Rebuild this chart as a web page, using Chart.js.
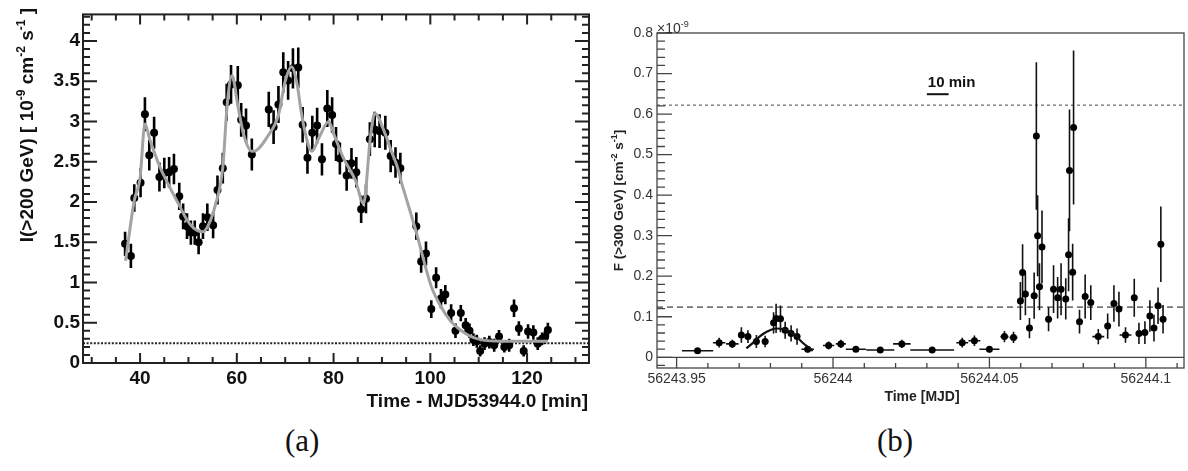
<!DOCTYPE html>
<html>
<head>
<meta charset="utf-8">
<script src="https://cdn.jsdelivr.net/npm/chart.js@4.4.1/dist/chart.umd.min.js"></script>
<style>
  body { margin: 0; background: #fff; width: 1188px; height: 471px; position: relative; overflow: hidden; }
  .panel { position: absolute; top: 0; }
  .caption { position: absolute; top: 425px; font-family: "Liberation Serif", serif; font-size: 31px; line-height: 31px; color: #111; }
</style>
</head>
<body>
<div class="panel" style="left:0"><canvas id="chartA" width="600" height="420"></canvas></div>
<div class="panel" style="left:600px"><canvas id="chartB" width="588" height="420"></canvas></div>
<div class="caption" style="left:285px">(a)</div>
<div class="caption" style="left:877px">(b)</div>
<script>
// left panel: 1-min light curve
const timeA = [36.9, 38.1, 38.8, 40.1, 41.0, 41.9, 42.9, 44.0, 45.0, 46.0,
  47.0, 48.1, 48.9, 49.7, 50.5, 51.3, 52.1, 53.0, 53.9, 55.1,
  56.0, 57.1, 57.9, 58.8, 60.2, 60.9, 61.9, 63.1, 66.6, 67.6,
  68.6, 69.6, 70.6, 71.6, 72.7, 73.6, 74.6, 75.6, 76.6, 77.6,
  78.7, 79.7, 80.5, 81.3, 82.7, 83.7, 84.7, 85.7, 86.7, 87.5,
  88.5, 89.5, 90.7, 91.8, 92.8, 93.8, 97.1, 98.1, 99.1, 100.2,
  101.2, 102.2, 103.1, 104.3, 105.2, 106.3, 107.3, 108.1, 108.9, 109.6,
  110.3, 111.2, 112.2, 113.2, 114.2, 115.3, 116.3, 117.3, 118.3, 119.3,
  120.2, 121.3, 122.2, 123.1, 123.7, 124.3];
const fluxA = [1.48, 1.33, 2.05, 2.24, 3.09, 2.58, 2.86, 2.31, 2.36, 2.37,
  2.41, 2.07, 1.82, 1.70, 1.62, 1.62, 1.50, 1.70, 1.81, 1.71,
  2.15, 2.42, 3.24, 3.46, 3.45, 3.02, 2.95, 2.59, 3.15, 2.93,
  3.21, 3.61, 3.51, 3.66, 3.67, 2.96, 2.55, 2.86, 2.95, 2.53,
  3.16, 3.08, 2.72, 2.54, 2.33, 2.48, 2.37, 1.91, 2.04, 2.78,
  2.90, 2.88, 2.86, 2.57, 2.49, 2.42, 1.70, 1.26, 1.36, 0.67,
  1.06, 0.80, 0.85, 0.62, 0.40, 0.62, 0.47, 0.40, 0.29, 0.27,
  0.15, 0.24, 0.26, 0.22, 0.33, 0.20, 0.22, 0.68, 0.43, 0.15,
  0.39, 0.38, 0.24, 0.30, 0.32, 0.41];
const errA = [0.15, 0.15, 0.17, 0.18, 0.21, 0.19, 0.20, 0.18, 0.19, 0.19,
  0.19, 0.17, 0.16, 0.16, 0.15, 0.15, 0.15, 0.16, 0.17, 0.16,
  0.18, 0.19, 0.23, 0.24, 0.24, 0.21, 0.21, 0.20, 0.22, 0.21,
  0.23, 0.25, 0.24, 0.25, 0.25, 0.22, 0.20, 0.21, 0.22, 0.20,
  0.23, 0.22, 0.21, 0.20, 0.19, 0.19, 0.19, 0.17, 0.18, 0.21,
  0.22, 0.21, 0.21, 0.20, 0.19, 0.19, 0.17, 0.14, 0.15, 0.11,
  0.13, 0.12, 0.12, 0.11, 0.09, 0.10, 0.09, 0.09, 0.08, 0.08,
  0.07, 0.08, 0.08, 0.08, 0.08, 0.07, 0.08, 0.11, 0.09, 0.07,
  0.09, 0.09, 0.08, 0.08, 0.08, 0.09];
const binHalfA = 0.5;
const fitTimeA = [37, 38.8, 40, 41, 42, 44, 46, 48, 50, 52,
  53, 54, 55.5, 57.1, 58, 59, 60.2, 61.4, 63.1, 64,
  66.2, 68.6, 70, 71.3, 72.5, 73.2, 74.2, 75.5, 77, 79,
  80, 82, 84.5, 86.2, 87.6, 88.5, 90.7, 92, 93.1, 94,
  95.5, 97.2, 99.3, 100.2, 102, 104.2, 106, 108, 110.4, 115, 124.3];
const fitFluxA = [1.27, 2.02, 2.3, 2.97, 2.78, 2.45, 2.2, 1.97, 1.75, 1.64,
  1.63, 1.70, 1.95, 2.43, 3.2, 3.57, 3.2, 2.84, 2.63, 2.64,
  2.8, 3.08, 3.5, 3.68, 3.45, 3.16, 2.84, 2.63, 2.8, 3.0,
  2.85, 2.55, 2.27, 1.98, 2.8, 3.1, 2.84, 2.62, 2.45, 2.25,
  1.95, 1.6, 1.13, 0.95, 0.72, 0.52, 0.42, 0.34, 0.29, 0.27, 0.27];
const baselineA = 0.245;
const xTicksA = [40, 60, 80, 100, 120];
const xTickLabelsA = ['40', '60', '80', '100', '120'];
const yTicksA = [0, 0.5, 1, 1.5, 2, 2.5, 3, 3.5, 4];
const yTickLabelsA = ['0', '0.5', '1', '1.5', '2', '2.5', '3', '3.5', '4'];

// right panel: flux above 300 GeV vs MJD
const mjdB = [56243.9567, 56243.9636, 56243.9678, 56243.9707, 56243.9728, 56243.9755, 56243.9783, 56243.9810, 56243.9818, 56243.9832,
  56243.9847, 56243.9866, 56243.9885, 56243.9919, 56243.9986, 56244.0025, 56244.0073, 56244.0151, 56244.0220, 56244.0317,
  56244.0413, 56244.0452, 56244.0500, 56244.0548, 56244.0577, 56244.0599, 56244.0606, 56244.0615, 56244.0628, 56244.0643,
  56244.0650, 56244.0654, 56244.0660, 56244.0668, 56244.0689, 56244.0705, 56244.0718, 56244.0729, 56244.0744, 56244.0753,
  56244.0756, 56244.0766, 56244.0769, 56244.0788, 56244.0806, 56244.0824, 56244.0848, 56244.0878, 56244.0898, 56244.0914,
  56244.0935, 56244.0963, 56244.0978, 56244.0997, 56244.1013, 56244.1026, 56244.1039, 56244.1048, 56244.1055];
const fluxB = [0.016, 0.036, 0.033, 0.055, 0.051, 0.039, 0.039, 0.085, 0.096, 0.095,
  0.067, 0.059, 0.051, 0.020, 0.029, 0.033, 0.020, 0.018, 0.033, 0.018,
  0.036, 0.041, 0.020, 0.051, 0.049, 0.139, 0.209, 0.156, 0.072, 0.152,
  0.546, 0.300, 0.174, 0.272, 0.094, 0.168, 0.147, 0.168, 0.144, 0.253,
  0.461, 0.210, 0.567, 0.088, 0.150, 0.135, 0.051, 0.077, 0.133, 0.119,
  0.055, 0.147, 0.059, 0.061, 0.102, 0.072, 0.127, 0.279, 0.094];
const errB = [0.004, 0.012, 0.010, 0.019, 0.016, 0.016, 0.014, 0.026, 0.036, 0.033,
  0.021, 0.020, 0.020, 0.008, 0.010, 0.010, 0.006, 0.005, 0.010, 0.004,
  0.012, 0.013, 0.008, 0.014, 0.014, 0.047, 0.070, 0.052, 0.025, 0.057,
  0.182, 0.100, 0.058, 0.090, 0.030, 0.059, 0.051, 0.064, 0.051, 0.090,
  0.150, 0.070, 0.190, 0.029, 0.054, 0.043, 0.019, 0.031, 0.045, 0.043,
  0.019, 0.047, 0.026, 0.028, 0.039, 0.033, 0.045, 0.093, 0.035];
const binHalfB = [0.005, 0.002, 0.002, 0.001, 0.001, 0.001, 0.001, 0.0006, 0.0006, 0.0006,
  0.0006, 0.0008, 0.0008, 0.002, 0.0018, 0.0016, 0.0032, 0.0045, 0.0028, 0.007,
  0.0019, 0.0019, 0.0032, 0.0013, 0.0013, 0.0005, 0.0005, 0.0005, 0.0005, 0.0005,
  0.0005, 0.0005, 0.0005, 0.0005, 0.0005, 0.0005, 0.0005, 0.0005, 0.0005, 0.0005,
  0.0005, 0.0005, 0.0005, 0.0005, 0.0005, 0.0005, 0.0019, 0.0005, 0.0005, 0.0005,
  0.0019, 0.0005, 0.0005, 0.0005, 0.0005, 0.0005, 0.0005, 0.0005, 0.0005];
const fitMjdB = [56243.9723, 56243.9743, 56243.9765, 56243.9791, 56243.9818, 56243.9845, 56243.9871, 56243.9903, 56243.9935];
const fitFluxB = [0.022, 0.035, 0.051, 0.064, 0.071, 0.069, 0.059, 0.036, 0.016];
const levelsB = [0.622, 0.124];
const xTicksB = [56243.95, 56244, 56244.05, 56244.1];
const xTickLabelsB = ['56243.95', '56244', '56244.05', '56244.1'];
const yTicksB = [0, 0.1, 0.2, 0.3, 0.4, 0.5, 0.6, 0.7, 0.8];
const yTickLabelsB = ['0', '0.1', '0.2', '0.3', '0.4', '0.5', '0.6', '0.7', '0.8'];

const limA = { xMin: 28.2, xMax: 132.8, yMin: 0, yMax: 4.33 };
const limB = { xMin: 56243.94373, xMax: 56244.1122, yMin: -0.0264, yMax: 0.8 };

Chart.defaults.font.family = '"Liberation Sans", Arial, sans-serif';

const pts = (xs, ys) => xs.map((x, i) => ({ x: x, y: ys[i] }));

// error bars under the markers, one vertical and one horizontal per point
const errorBars = {
  id: 'errorBars',
  beforeDatasetDraw(chart, args) {
    const ds = chart.data.datasets[args.index];
    if (!ds.yErr) return;
    const ctx = chart.ctx, x = chart.scales.x, y = chart.scales.y;
    ctx.save();
    ctx.strokeStyle = ds.errColor;
    ctx.lineWidth = ds.errWidth;
    ctx.beginPath();
    ds.data.forEach((p, i) => {
      const px = x.getPixelForValue(p.x), py = y.getPixelForValue(p.y);
      ctx.moveTo(px, y.getPixelForValue(p.y - ds.yErr[i]));
      ctx.lineTo(px, y.getPixelForValue(p.y + ds.yErr[i]));
      ctx.moveTo(x.getPixelForValue(p.x - ds.xErr[i]), py);
      ctx.lineTo(x.getPixelForValue(p.x + ds.xErr[i]), py);
    });
    ctx.stroke();
    ctx.restore();
  }
};

// box around the plot plus inward major/minor tick marks
const frameTicks = {
  id: 'frameTicks',
  afterDatasetsDraw(chart, args, o) {
    const ctx = chart.ctx, a = chart.chartArea, x = chart.scales.x, y = chart.scales.y;
    const marks = (scale, step, majors) => {
      const out = [];
      const k0 = Math.ceil(scale.min / step - 1e-6), k1 = Math.floor(scale.max / step + 1e-6);
      for (let k = k0; k <= k1; k++) {
        const v = k * step;
        out.push([scale.getPixelForValue(v), majors.some(m => Math.abs(m - v) < step / 10)]);
      }
      return out;
    };
    ctx.save();
    ctx.strokeStyle = o.color;
    ctx.lineWidth = o.frameWidth;
    ctx.strokeRect(a.left, a.top, a.right - a.left, a.bottom - a.top);
    ctx.lineWidth = o.tickWidth;
    ctx.beginPath();
    marks(x, o.xStep, o.xMajor).forEach(([px, major]) => {
      const len = major ? o.xLen[0] : o.xLen[1];
      ctx.moveTo(px, a.bottom); ctx.lineTo(px, a.bottom - len);
      if (o.mirror) { ctx.moveTo(px, a.top); ctx.lineTo(px, a.top + len); }
    });
    marks(y, o.yStep, o.yMajor).forEach(([py, major]) => {
      const len = major ? o.yLen[0] : o.yLen[1];
      ctx.moveTo(a.left, py); ctx.lineTo(a.left + len, py);
      if (o.mirror) { ctx.moveTo(a.right, py); ctx.lineTo(a.right - len, py); }
    });
    ctx.stroke();
    ctx.restore();
  }
};

// text with superscript pieces, optionally rotated to read upwards
function richText(ctx, parts, x, y, opt) {
  const weight = opt.bold ? 'bold ' : '';
  const supSize = Math.round(opt.size * 0.64);
  const fontOf = sup => weight + (sup ? supSize : opt.size) + 'px "Liberation Sans", Arial, sans-serif';
  let total = 0;
  parts.forEach(([t, sup]) => { ctx.font = fontOf(sup); total += ctx.measureText(t).width; });
  ctx.save();
  ctx.translate(x, y);
  if (opt.rotate) ctx.rotate(-Math.PI / 2);
  ctx.fillStyle = opt.color;
  ctx.textAlign = 'left';
  ctx.textBaseline = 'alphabetic';
  let cx = opt.align === 'right' ? -total : opt.align === 'center' ? -total / 2 : 0;
  parts.forEach(([t, sup]) => {
    ctx.font = fontOf(sup);
    ctx.fillText(t, cx, sup ? -opt.size * 0.42 : 0);
    cx += ctx.measureText(t).width;
  });
  ctx.restore();
}

const titlesA = {
  id: 'titlesA',
  afterDraw(chart) {
    const ctx = chart.ctx;
    richText(ctx, [['Time - MJD53944.0 [min]', false]], 588, 407,
      { size: 19, bold: true, color: '#111', align: 'right' });
    richText(ctx, [['I(>200 GeV) [ 10', false], ['-9', true], [' cm', false], ['-2', true],
      [' s', false], ['-1', true], [' ]', false]], 33, 8,
      { size: 19, bold: true, color: '#111', align: 'right', rotate: true });
  }
};

const titlesB = {
  id: 'titlesB',
  afterDraw(chart) {
    const ctx = chart.ctx, x = chart.scales.x, y = chart.scales.y;
    richText(ctx, [['Time [MJD]', false]], 322, 401,
      { size: 14, bold: true, color: '#222', align: 'center' });
    richText(ctx, [['F (>300 GeV) [cm', false], ['-2', true], [' s', false], ['-1', true], [']', false]],
      23, 200.5, { size: 13.5, bold: true, color: '#222', align: 'center', rotate: true });
    richText(ctx, [['\u00d710', false], ['-9', true]], 57, 32.5,
      { size: 14, bold: false, color: '#333', align: 'left' });
    // 10 minute scale bar
    const x0 = 56244.0300;
    const barY = y.getPixelForValue(0.649);
    ctx.save();
    ctx.strokeStyle = '#111';
    ctx.lineWidth = 2;
    ctx.beginPath();
    ctx.moveTo(x.getPixelForValue(x0), barY);
    ctx.lineTo(x.getPixelForValue(x0 + 10 / 1440), barY);
    ctx.stroke();
    ctx.restore();
    richText(ctx, [['10 min', false]], x.getPixelForValue(x0) + 1, 87,
      { size: 15, bold: true, color: '#111', align: 'left' });
  }
};

function axis(lim, side, ticks, labels, size, font, pad, color) {
  return {
    type: 'linear',
    position: side,
    min: lim[0],
    max: lim[1],
    afterFit: s => { if (side === 'left') s.width = size; else s.height = size; },
    afterBuildTicks: s => { s.ticks = ticks.map(v => ({ value: v })); },
    grid: { display: false, drawTicks: false },
    border: { display: false },
    ticks: {
      autoSkip: false,
      maxRotation: 0,
      padding: pad,
      color: color,
      font: font,
      callback: (v, i) => labels[i]
    }
  };
}

new Chart(document.getElementById('chartA'), {
  type: 'scatter',
  data: {
    datasets: [
      {
        type: 'line',
        data: pts(fitTimeA, fitFluxA),
        borderColor: '#a3a3a3',
        borderWidth: 3,
        pointRadius: 0,
        cubicInterpolationMode: 'monotone'
      },
      {
        data: pts(timeA, fluxA),
        yErr: errA,
        xErr: timeA.map(() => binHalfA),
        errColor: '#000',
        errWidth: 2.6,
        backgroundColor: '#000',
        borderColor: '#000',
        pointRadius: 4,
        pointBorderWidth: 0
      },
      {
        type: 'line',
        data: [{ x: limA.xMin, y: baselineA }, { x: limA.xMax, y: baselineA }],
        borderColor: '#222',
        borderWidth: 2,
        borderDash: [2, 1.6],
        pointRadius: 0
      }
    ]
  },
  options: {
    responsive: false,
    animation: false,
    layout: { padding: { top: 8, right: 11, left: 0, bottom: 0 } },
    plugins: {
      legend: { display: false },
      tooltip: { enabled: false },
      frameTicks: {
        color: '#222', frameWidth: 2, tickWidth: 2, mirror: true,
        xStep: 5, xMajor: xTicksA, xLen: [10, 6],
        yStep: 0.1, yMajor: yTicksA, yLen: [14, 7]
      }
    },
    scales: {
      x: axis([limA.xMin, limA.xMax], 'bottom', xTicksA, xTickLabelsA, 57,
        { size: 19, weight: 'bold' }, 4, '#111'),
      y: axis([limA.yMin, limA.yMax], 'left', yTicksA, yTickLabelsA, 83,
        { size: 19, weight: 'bold' }, 3, '#111')
    }
  },
  plugins: [errorBars, frameTicks, titlesA]
});

new Chart(document.getElementById('chartB'), {
  type: 'scatter',
  data: {
    datasets: [
      {
        type: 'line',
        data: pts(fitMjdB, fitFluxB),
        borderColor: '#111',
        borderWidth: 2.2,
        pointRadius: 0,
        cubicInterpolationMode: 'monotone'
      },
      {
        data: pts(mjdB, fluxB),
        yErr: errB,
        xErr: binHalfB,
        errColor: '#111',
        errWidth: 1.6,
        backgroundColor: '#000',
        borderColor: '#000',
        pointRadius: 3.5,
        pointBorderWidth: 0
      },
      {
        type: 'line',
        data: [{ x: limB.xMin, y: levelsB[0] }, { x: limB.xMax, y: levelsB[0] }],
        borderColor: '#666',
        borderWidth: 1.2,
        borderDash: [3, 3],
        pointRadius: 0
      },
      {
        type: 'line',
        data: [{ x: limB.xMin, y: levelsB[1] }, { x: limB.xMax, y: levelsB[1] }],
        borderColor: '#777',
        borderWidth: 1.8,
        borderDash: [6, 4],
        pointRadius: 0
      },
      {
        type: 'line',
        data: [{ x: limB.xMin, y: 0 }, { x: limB.xMax, y: 0 }],
        borderColor: '#444',
        borderWidth: 1.2,
        pointRadius: 0
      }
    ]
  },
  options: {
    responsive: false,
    animation: false,
    layout: { padding: { top: 33, right: 2, left: 0, bottom: 0 } },
    plugins: {
      legend: { display: false },
      tooltip: { enabled: false },
      frameTicks: {
        color: '#444', frameWidth: 1.3, tickWidth: 1.3, mirror: false,
        xStep: 0.01, xMajor: xTicksB, xLen: [10, 5],
        yStep: 0.02, yMajor: yTicksB, yLen: [15, 8]
      }
    },
    scales: {
      x: axis([limB.xMin, limB.xMax], 'bottom', xTicksB, xTickLabelsB, 52,
        { size: 14 }, 3, '#333'),
      y: axis([limB.yMin, limB.yMax], 'left', yTicksB, yTickLabelsB, 57,
        { size: 14 }, 4, '#333')
    }
  },
  plugins: [errorBars, frameTicks, titlesB]
});
</script>
</body>
</html>
